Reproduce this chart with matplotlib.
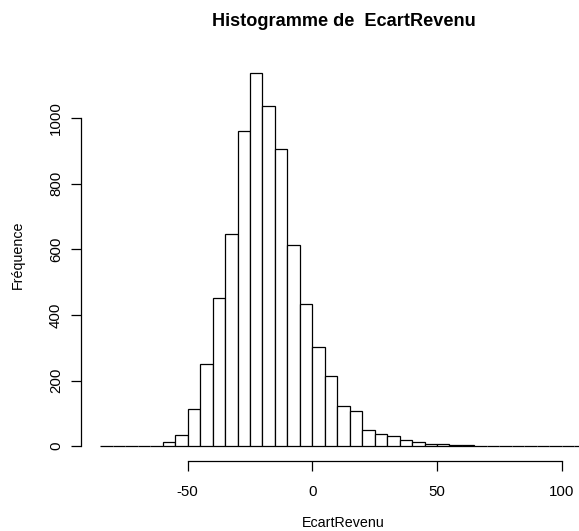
import numpy as np
import matplotlib.pyplot as plt

plt.rcParams['font.family'] = ['Liberation Sans', 'DejaVu Sans']
plt.rcParams['axes.unicode_minus'] = False

# classes de 5 unités, de -85 à 110
bornes = np.arange(-85, 115, 5)
effectifs = [0, 0, 0, 0, 0,
             12, 33, 113, 250, 453, 648, 960, 1137, 1039, 907,
             614, 433, 302, 215, 121, 107, 49, 38, 32, 19,
             13, 5, 5, 3, 2,
             0, 0, 0, 0, 0, 0, 0, 0, 0]
xticks = [-50, 0, 50, 100]
yticks = [0, 200, 400, 600, 800, 1000]

W, H = 579, 531
fig = plt.figure(figsize=(W / 100, H / 100), dpi=100)

# région du tracé en pixels (style R)
left, right, top, bottom = 81, 606, 58.5, 461
ax = fig.add_axes([left / W, 1 - bottom / H, (right - left) / W, (bottom - top) / H])

ax.hist(bornes[:-1], bins=bornes, weights=effectifs,
        facecolor='white', edgecolor='black', linewidth=0.9)

rng = bornes[-1] - bornes[0]
ax.set_xlim(bornes[0] - 0.04 * rng, bornes[-1] + 0.04 * rng)
ymax = max(effectifs)
ax.set_ylim(-0.04 * ymax, ymax * 1.04)

for s in ['top', 'right']:
    ax.spines[s].set_visible(False)
ax.spines['left'].set_bounds(0, 1000)
ax.spines['bottom'].set_bounds(-50, 100)
ax.spines['left'].set_linewidth(0.9)
ax.spines['bottom'].set_linewidth(0.9)

ax.set_xticks(xticks)
ax.set_xticklabels([str(v) for v in xticks])
ax.set_yticks(yticks)
ax.set_yticklabels([str(v) for v in yticks], rotation=90, va='center')
ax.tick_params(axis='both', length=7, width=0.9, labelsize=10.8, colors='black')
ax.tick_params(axis='x', pad=10)
ax.tick_params(axis='y', pad=6)

ax.set_title('Histogramme de  EcartRevenu', fontsize=13.1, fontweight='bold',
             y=1 + (top - 22) / (bottom - top), va='center', pad=0)
ax.set_xlabel('EcartRevenu', fontsize=10.3)
ax.xaxis.set_label_coords(343.5 / W, 1 - 523 / H, transform=fig.transFigure)
ax.xaxis.label.set_va('center')
ax.set_ylabel('Fréquence', fontsize=10.3)
ax.yaxis.set_label_coords(18 / W, 1 - 255 / H, transform=fig.transFigure)
ax.yaxis.label.set_va('center')

fig.savefig('out.png', dpi=100)
